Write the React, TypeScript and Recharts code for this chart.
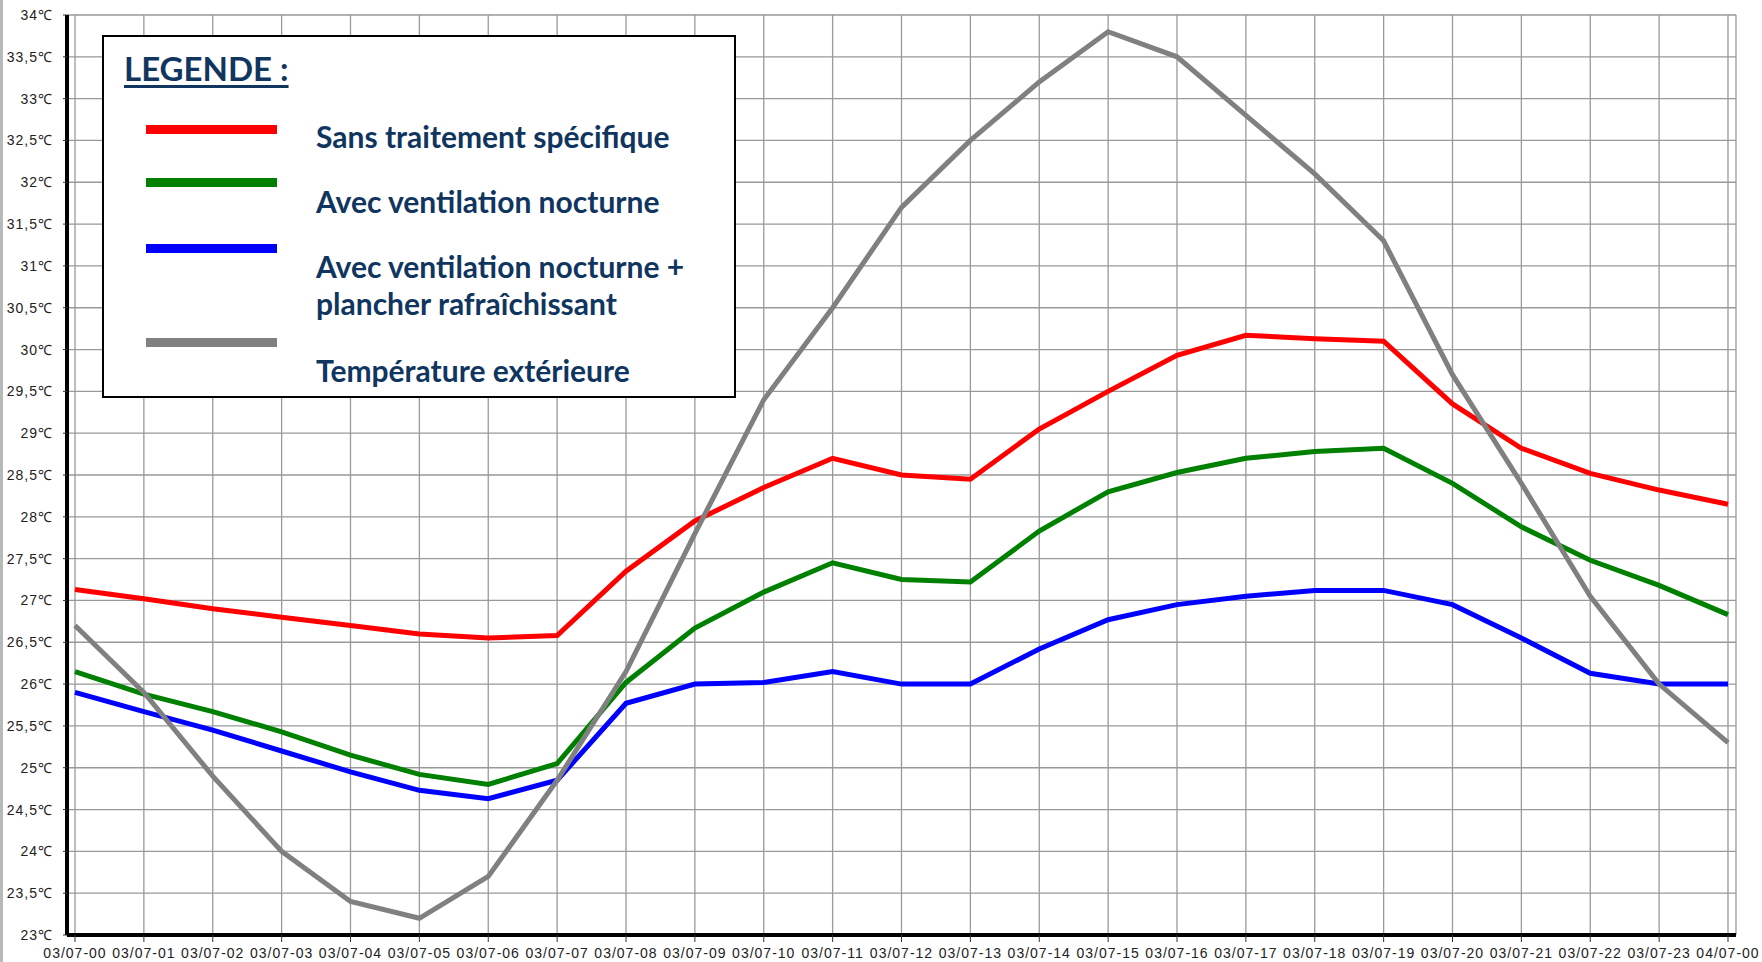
import React from 'react';
import { LineChart, Line, XAxis, YAxis, CartesianGrid, Legend } from 'recharts';

const hours = [
  '03/07-00', '03/07-01', '03/07-02', '03/07-03', '03/07-04', '03/07-05', '03/07-06', '03/07-07',
  '03/07-08', '03/07-09', '03/07-10', '03/07-11', '03/07-12', '03/07-13', '03/07-14', '03/07-15',
  '03/07-16', '03/07-17', '03/07-18', '03/07-19', '03/07-20', '03/07-21', '03/07-22', '03/07-23',
  '04/07-00',
];

const sansTraitement = [
  27.13, 27.02, 26.9, 26.8, 26.7, 26.6, 26.55, 26.58, 27.35, 27.95, 28.35, 28.7, 28.5,
  28.45, 29.05, 29.5, 29.93, 30.17, 30.13, 30.1, 29.35, 28.82, 28.52, 28.32, 28.15,
];
const ventilation = [
  26.15, 25.88, 25.67, 25.43, 25.15, 24.92, 24.8, 25.05, 26.02, 26.67, 27.1, 27.45, 27.25,
  27.22, 27.83, 28.3, 28.53, 28.7, 28.78, 28.82, 28.4, 27.88, 27.48, 27.18, 26.83,
];
const ventilationPlancher = [
  25.9, 25.67, 25.45, 25.2, 24.95, 24.73, 24.63, 24.85, 25.77, 26.0, 26.02, 26.15, 26.0,
  26.0, 26.42, 26.77, 26.95, 27.05, 27.12, 27.12, 26.95, 26.55, 26.13, 26.0, 26.0,
];
const exterieure = [
  26.7, 25.9, 24.9, 24.0, 23.4, 23.2, 23.7, 24.85, 26.15, 27.8, 29.4, 30.5, 31.7,
  32.5, 33.2, 33.8, 33.5, 32.8, 32.1, 31.3, 29.7, 28.4, 27.05, 26.0, 25.3,
];

const yTicks = [
  23, 23.5, 24, 24.5, 25, 25.5, 26, 26.5, 27, 27.5, 28, 28.5, 29, 29.5, 30, 30.5, 31, 31.5,
  32, 32.5, 33, 33.5, 34,
];

const seriesKeys = ['sans', 'vent', 'plancher', 'ext'];
const seriesNames = [
  'Sans traitement spécifique',
  'Avec ventilation nocturne',
  'Avec ventilation nocturne +\nplancher rafraîchissant',
  'Température extérieure',
];
const seriesColors = ['#ff0000', '#008000', '#0000ff', '#808080'];

// minor tick positions (axis decoration only)
const yMinorTicks: number[] = [];
for (let i = 0; i <= 110; i++) yMinorTicks.push(23 + i / 10);
const xMinorTicks: number[] = [];
for (let i = 0; i <= 96; i++) xMinorTicks.push(i / 4);

const data = hours.map((label, i) => ({
  label,
  sans: sansTraitement[i],
  vent: ventilation[i],
  plancher: ventilationPlancher[i],
  ext: exterieure[i],
}));

const navy = '#10365f';
const tickFont = { fontFamily: '"Liberation Sans", Arial, sans-serif', fontSize: 14, fill: '#222', letterSpacing: 1 };

// legend item positions inside the box
const lineTops = [92, 145, 211, 305];
const textTops = [81, 146, 211, 315];

function LegendBox(props: any) {
  const payload = [...(props.payload || [])].sort(
    (a: any, b: any) => seriesKeys.indexOf(a.dataKey) - seriesKeys.indexOf(b.dataKey)
  );
  return (
    <div
      style={{
        position: 'relative',
        boxSizing: 'border-box',
        width: 634,
        height: 363,
        border: '2px solid #000',
        background: '#fff',
        fontFamily: 'Lato, "Open Sans", sans-serif',
        fontWeight: 700,
        color: navy,
      }}
    >
      <div
        style={{
          position: 'absolute',
          left: 20,
          top: 9,
          fontSize: 33,
          textDecoration: 'underline',
          textDecorationThickness: 3,
          textUnderlineOffset: 4,
          lineHeight: '44px',
        }}
      >
        LEGENDE :
      </div>
      {payload.map((entry: any, i: number) => (
        <React.Fragment key={entry.dataKey}>
          <div
            style={{
              position: 'absolute',
              left: 42,
              top: lineTops[i] - 4.5,
              width: 131,
              height: 9,
              background: entry.color,
            }}
          />
          <div
            style={{
              position: 'absolute',
              left: 212,
              top: textTops[i],
              fontSize: 30,
              lineHeight: '37px',
              whiteSpace: 'pre-line',
            }}
          >
            {entry.value}
          </div>
        </React.Fragment>
      ))}
    </div>
  );
}

export default function App() {
  return (
    <div style={{ position: 'relative', width: 1762, height: 962, overflow: 'hidden', background: '#fff' }}>
      <style>{'body{margin:0;overflow:hidden}'}</style>
      <div style={{ position: 'absolute', left: 0, top: 0, width: 3, height: 962, background: '#b4bab7' }} />
      <LineChart width={1762} height={962} data={data} margin={{ top: 15, right: 26, bottom: 0, left: 0 }}>
        <XAxis
          xAxisId="minor"
          type="number"
          domain={[0, 24]}
          ticks={xMinorTicks}
          interval={0}
          padding={{ left: 8, right: 8 }}
          height={0}
          tick={false}
          axisLine={false}
          tickLine={{ stroke: '#333' }}
          tickSize={4}
          allowDataOverflow
        />
        <YAxis
          yAxisId="minor"
          type="number"
          domain={[23, 34]}
          ticks={yMinorTicks}
          interval={0}
          width={0}
          tick={false}
          axisLine={false}
          tickLine={{ stroke: '#555' }}
          tickSize={3}
          allowDataOverflow
        />
        <XAxis
          xAxisId="top"
          orientation="top"
          type="number"
          domain={[0, 24]}
          height={0}
          tick={false}
          tickLine={false}
          axisLine={{ stroke: '#333', strokeWidth: 2 }}
        />
        <YAxis
          yAxisId="right"
          orientation="right"
          type="number"
          domain={[23, 34]}
          width={0}
          tick={false}
          tickLine={false}
          axisLine={{ stroke: '#333', strokeWidth: 2 }}
        />
        <CartesianGrid stroke="#999" strokeWidth={1.3} />
        <XAxis
          dataKey="label"
          interval={0}
          padding={{ left: 8, right: 8 }}
          height={27}
          tickSize={7}
          tickMargin={6}
          tick={tickFont}
          tickLine={{ stroke: '#333' }}
          axisLine={{ stroke: '#000', strokeWidth: 4 }}
        />
        <YAxis
          type="number"
          domain={[23, 34]}
          ticks={yTicks}
          interval={0}
          width={67}
          tickSize={4}
          tickMargin={10}
          tick={tickFont}
          tickFormatter={(v: number) => `${String(v).replace('.', ',')}℃`}
          tickLine={{ stroke: '#333' }}
          axisLine={{ stroke: '#000', strokeWidth: 4 }}
          allowDataOverflow
        />
        <Legend
          layout="horizontal"
          verticalAlign="middle"
          align="center"
          wrapperStyle={{ left: 102, top: 35, width: 634, height: 363 }}
          content={<LegendBox />}
        />
        {seriesKeys.map((key, i) => (
          <Line
            key={key}
            dataKey={key}
            name={seriesNames[i]}
            stroke={seriesColors[i]}
            strokeWidth={5}
            dot={false}
            activeDot={false}
            isAnimationActive={false}
          />
        ))}
      </LineChart>
    </div>
  );
}
